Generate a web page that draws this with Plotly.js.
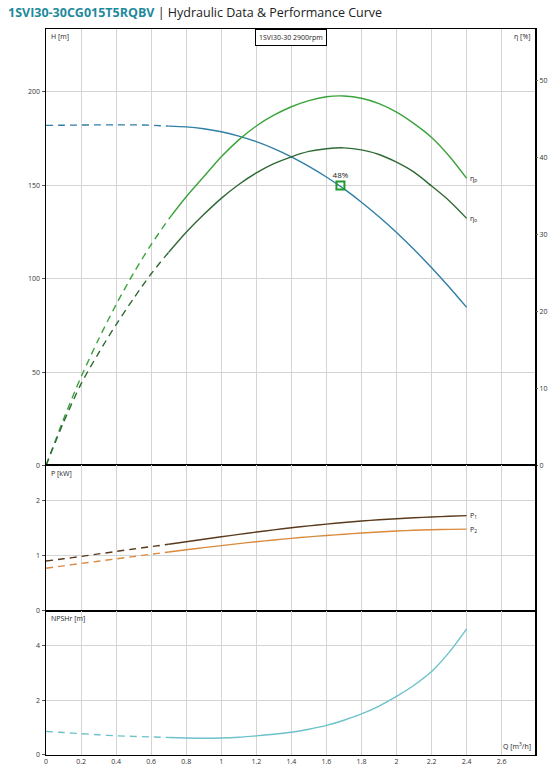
<!DOCTYPE html>
<html>
<head>
<meta charset="utf-8">
<script src="https://cdn.plot.ly/plotly-3.0.1.min.js"></script>
<style>html,body{margin:0;padding:0;background:#fff;}</style>
</head>
<body>
<div id="chart" style="width:550px;height:774px;"></div>
<script>
// ---- data ----
const flow = [0,0.1,0.2,0.3,0.4,0.5,0.6,0.7,0.8,0.9,1.0,1.1,1.2,1.3,1.4,1.5,1.6,1.7,1.8,1.9,2.0,2.1,2.2,2.3,2.4];
const head = [182.0,182.1,182.2,182.3,182.3,182.3,182.1,181.6,181.2,180.2,178.6,176.3,173.3,169.6,165.2,160.1,154.4,148.0,140.9,133.1,124.7,115.6,105.8,95.5,84.6];
const etaPump = [0,6.0,11.5,16.4,20.9,25.0,28.7,32.0,34.9,37.5,40.1,42.3,44.1,45.5,46.6,47.4,47.9,48.0,47.7,47.0,45.9,44.4,42.6,40.2,37.3];
const etaTotal = [0,5.6,10.6,14.6,18.3,21.7,24.9,27.7,30.3,32.6,34.7,36.5,38.0,39.2,40.1,40.8,41.15,41.26,41.0,40.4,39.4,38.1,36.3,34.4,32.1];
const powerP1 = [0.90,0.942,0.985,1.03,1.075,1.12,1.163,1.207,1.252,1.297,1.342,1.386,1.428,1.468,1.506,1.541,1.573,1.602,1.628,1.651,1.671,1.688,1.703,1.716,1.727];
const powerP2 = [0.77,0.813,0.856,0.898,0.94,0.982,1.024,1.065,1.105,1.144,1.182,1.218,1.252,1.284,1.314,1.341,1.366,1.389,1.41,1.429,1.446,1.46,1.47,1.477,1.482];
const npshr = [0.86,0.82,0.78,0.74,0.70,0.68,0.66,0.64,0.62,0.61,0.62,0.65,0.70,0.76,0.83,0.94,1.08,1.27,1.50,1.79,2.14,2.55,3.05,3.75,4.61];
const dutyQ = [1.68];
const dutyH = [149.8];
const dutyLabel = ['48%'];
const xTicks = [0,0.2,0.4,0.6,0.8,1,1.2,1.4,1.6,1.8,2,2.2,2.4,2.6];
const xTickText = ['0','0.2','0.4','0.6','0.8','1','1.2','1.4','1.6','1.8','2','2.2','2.4','2.6'];
const splitQ = 0.7; // end of dashed (extrapolated) range
const titleModel = '1SVI30-30CG015T5RQBV';
const titleRest = 'Hydraulic Data & Performance Curve';
const speedLabel = '1SVI30-30 2900rpm';

// ---- helpers ----
const iSplit = flow.indexOf(splitQ);
function part(arr, dashed){ return dashed ? arr.slice(0, iSplit+1) : arr.slice(iSplit); }
function pair(y, xa, ya, color, width){
  return [
    {x: part(flow,true), y: part(y,true), xaxis: xa, yaxis: ya, mode:'lines', line:{color:color, width:width, dash:'7px,5px', shape:'spline', smoothing:0.8}, hoverinfo:'skip'},
    {x: part(flow,false), y: part(y,false), xaxis: xa, yaxis: ya, mode:'lines', line:{color:color, width:width, shape:'spline', smoothing:0.8}, hoverinfo:'skip'}
  ];
}

const cH = '#2f7fa6', cEp = '#3aa33a', cEt = '#2f6a34', cP1 = '#5a3a1c', cP2 = '#d98a3c', cN = '#6cc2cb';

const traces = [].concat(
  pair(head, 'x', 'y', cH, 1.4),
  pair(etaPump, 'x', 'y4', cEp, 1.4),
  pair(etaTotal, 'x', 'y4', cEt, 1.4),
  pair(powerP1, 'x2', 'y2', cP1, 1.4),
  pair(powerP2, 'x2', 'y2', cP2, 1.4),
  pair(npshr, 'x3', 'y3', cN, 1.4),
  [{x: dutyQ, y: dutyH, xaxis:'x', yaxis:'y', mode:'markers+text', text: dutyLabel, textposition:'top center',
    textfont:{size:8, color:'#222', family:'Open Sans, sans-serif'},
    marker:{symbol:'square-open', size:8, color:'#1f9a2a', line:{width:2, color:'#1f9a2a'}}, hoverinfo:'skip'}]
);

const grid = '#d4d4d4';
const tickFont = {size:7, color:'#333', family:'Open Sans, sans-serif'};
function xax(anchor, labels){
  return {domain:[0,1], anchor:anchor, range:[0,2.79], tickvals:xTicks, ticktext:xTickText, showticklabels:labels,
    showgrid:true, gridcolor:grid, gridwidth:1, zeroline:false, showline:true, mirror:true, linecolor:'#000', linewidth:1,
    ticks:'', tickfont:tickFont, fixedrange:true};
}
function yax(domain, range, dtick){
  return {domain:domain, range:range, dtick:dtick, showgrid:true, gridcolor:grid, gridwidth:1, zeroline:false,
    showline:true, mirror:true, linecolor:'#000', linewidth:1.5, ticks:'outside', ticklen:3, tickcolor:'#555',
    tickfont:tickFont, fixedrange:true};
}

const labFont = {size:7, color:'#222', family:'Open Sans, sans-serif'};
const n = flow.length - 1;
const layout = {
  width:550, height:774,
  margin:{l:46, r:15, t:29, b:19},
  paper_bgcolor:'#fff', plot_bgcolor:'#fff',
  showlegend:false,
  title:{text:'<b><span style="color:#1f8a9c">'+titleModel+'</span></b> <span style="color:#222">| '+titleRest+'</span>',
    xref:'container', yref:'container', x:8/550, xanchor:'left', y:1-13/774, yanchor:'middle',
    font:{size:12.5, family:'Open Sans, sans-serif', color:'#222'}},
  xaxis: xax('y', false),
  xaxis2: xax('y2', false),
  xaxis3: xax('y3', true),
  yaxis: yax([0.3988,1], [0,233.6], 50),
  yaxis2: yax([0.199,0.3988], [0,2.64], 1),
  yaxis3: yax([0,0.199], [0,5.28], 2),
  yaxis4: {overlaying:'y', side:'right', range:[0,56.7], dtick:10, showgrid:false, zeroline:false, showline:false,
    ticks:'outside', ticklen:2, tickcolor:'#555', tickfont:tickFont, fixedrange:true},
  annotations:[
    {xref:'paper', yref:'paper', x:0.006, y:0.998, xanchor:'left', yanchor:'top', text:'H [m]', showarrow:false, font:labFont},
    {xref:'paper', yref:'paper', x:0.994, y:0.998, xanchor:'right', yanchor:'top', text:'η [%]', showarrow:false, font:labFont},
    {xref:'paper', yref:'paper', x:0.006, y:0.3965, xanchor:'left', yanchor:'top', text:'P [kW]', showarrow:false, font:labFont},
    {xref:'paper', yref:'paper', x:0.006, y:0.1965, xanchor:'left', yanchor:'top', text:'NPSHr [m]', showarrow:false, font:labFont},
    {xref:'paper', yref:'paper', x:0.996, y:0.003, xanchor:'right', yanchor:'bottom', text:'Q [m<sup>3</sup>/h]', showarrow:false, font:labFont},
    {xref:'paper', yref:'paper', x:0.5, y:1, xanchor:'center', yanchor:'top', text:speedLabel, showarrow:false,
      font:{size:7, color:'#222', family:'Open Sans, sans-serif'}, bordercolor:'#000', borderwidth:1, borderpad:3, bgcolor:'#fff'},
    {xref:'x', yref:'y4', x:flow[n], y:etaPump[n], xanchor:'left', yanchor:'middle', xshift:1, text:'η<sub>p</sub>', showarrow:false, font:labFont},
    {xref:'x', yref:'y4', x:flow[n], y:etaTotal[n], xanchor:'left', yanchor:'middle', xshift:1, text:'η<sub>o</sub>', showarrow:false, font:labFont},
    {xref:'x2', yref:'y2', x:flow[n], y:powerP1[n], xanchor:'left', yanchor:'middle', xshift:1, text:'P<sub>1</sub>', showarrow:false, font:labFont},
    {xref:'x2', yref:'y2', x:flow[n], y:powerP2[n], xanchor:'left', yanchor:'middle', xshift:1, text:'P<sub>2</sub>', showarrow:false, font:labFont}
  ]
};

Plotly.newPlot('chart', traces, layout, {displayModeBar:false, staticPlot:true});
</script>
</body>
</html>
